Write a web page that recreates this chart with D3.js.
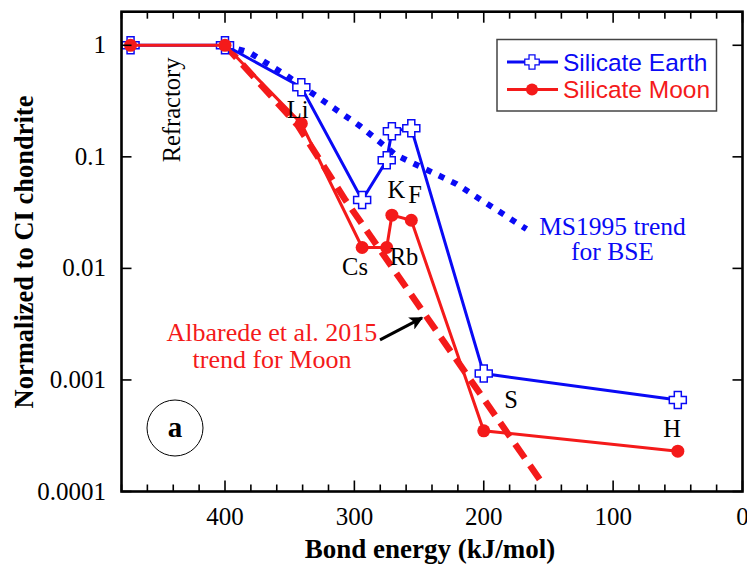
<!DOCTYPE html>
<html>
<head>
<meta charset="utf-8">
<script src="https://cdn.jsdelivr.net/npm/d3@7"></script>
<style>
  html, body { margin: 0; padding: 0; background: #fff; }
  svg text { font-family: "Liberation Serif", "Times New Roman", serif; }
</style>
</head>
<body>
<svg id="chart" width="747" height="564"></svg>
<script>
// bond energies (kJ/mol) of the plotted elements, refractory first
const elements   = ["Refr", "Refr", "Li", "Cs", "Rb", "K", "F", "S", "H"];
const bondEnergy = [473, 400, 341, 294, 275, 271, 256, 200, 50];
const earthValues = [1, 1, 0.42, 0.041, 0.093, 0.17, 0.18, 0.00114, 0.00066];
const moonValues  = [1, 1, 0.199, 0.0154, 0.0154, 0.030, 0.027, 0.00035, 0.00023];

// MS1995 trend for BSE (dotted)
const bseTrendEnergy = [400, 381, 354, 296, 268, 221, 167];
const bseTrendValues = [1, 0.86, 0.55, 0.19, 0.104, 0.057, 0.0225];

// Albarede et al. 2015 trend for Moon (dashed)
const moonTrendEnergy = [400, 344, 307, 156.5];
const moonTrendValues = [1, 0.193, 0.0411, 0.000127];

const xTicks = [400, 300, 200, 100, 0];
const yTicks = [1, 0.1, 0.01, 0.001, 0.0001];
const yTickLabels = ["1", "0.1", "0.01", "0.001", "0.0001"];

// element labels placed at (energy, value)
const pointLabels = [
  {t: "Li", e: 343.8, v: 0.223},
  {t: "K",  e: 267.6, v: 0.0428},
  {t: "F",  e: 253.1, v: 0.0386},
  {t: "Cs", e: 299.5, v: 0.00873},
  {t: "Rb", e: 261.6, v: 0.01074},
  {t: "S",  e: 178.9, v: 0.00056},
  {t: "H",  e: 54.5,  v: 0.000308}
];

const blue = "#0a0af5", red = "#f41a1a";

const svg = d3.select("#chart");
const padL = 121.5, padR = 742.5, padT = 11.7, padB = 491.5;

const x = d3.scaleLinear().domain([480, 0]).range([padL, padR]);
const y = d3.scaleLog().domain([0.0001, 2]).range([padB, padT]);

// ---- trends (behind data) ----
const line = d3.line().x(d => x(d[0])).y(d => y(d[1]));

svg.append("path")
  .attr("d", line(d3.zip(bseTrendEnergy, bseTrendValues)))
  .attr("fill", "none").attr("stroke", blue)
  .attr("stroke-width", 6).attr("stroke-dasharray", "6,8");

svg.append("path")
  .attr("d", line(d3.zip(moonTrendEnergy, moonTrendValues)))
  .attr("fill", "none").attr("stroke", red)
  .attr("stroke-width", 6.5).attr("stroke-dasharray", "17,9");

// ---- data ----
const plus = "M-3.5,-8.5H3.5V-3.5H8.5V3.5H3.5V8.5H-3.5V3.5H-8.5V-3.5H-3.5Z";
const earth = d3.zip(bondEnergy, earthValues);
const moon = d3.zip(bondEnergy, moonValues);

svg.append("path").attr("d", line(earth))
  .attr("fill", "none").attr("stroke", blue).attr("stroke-width", 3);
svg.selectAll(".ept").data(earth).join("path")
  .attr("class", "ept")
  .attr("d", plus)
  .attr("transform", d => `translate(${x(d[0])},${y(d[1])})`)
  .attr("fill", "#fff").attr("stroke", blue).attr("stroke-width", 1.5);

svg.append("path").attr("d", line(moon))
  .attr("fill", "none").attr("stroke", red).attr("stroke-width", 3);
svg.selectAll(".mpt").data(moon).join("circle")
  .attr("class", "mpt")
  .attr("cx", d => x(d[0])).attr("cy", d => y(d[1]))
  .attr("r", 6.5).attr("fill", red);

// ---- frame and ticks ----
const g = svg.append("g");
g.append("rect")
  .attr("x", padL).attr("y", padT)
  .attr("width", padR - padL).attr("height", padB - padT)
  .attr("fill", "none").attr("stroke", "#000").attr("stroke-width", 2.6);

const minor = d3.range(0, 481, 20);
minor.forEach(v => {
  const big = v % 100 === 0;
  const len = big ? 11 : 7;
  g.append("line").attr("x1", x(v)).attr("x2", x(v))
    .attr("y1", padB).attr("y2", padB - len)
    .attr("stroke", "#000").attr("stroke-width", 1.6);
  g.append("line").attr("x1", x(v)).attr("x2", x(v))
    .attr("y1", padT).attr("y2", padT + len)
    .attr("stroke", "#000").attr("stroke-width", 1.6);
});
yTicks.forEach(v => {
  g.append("line").attr("x1", padL).attr("x2", padL + 10)
    .attr("y1", y(v)).attr("y2", y(v)).attr("stroke", "#000").attr("stroke-width", 1.6);
  g.append("line").attr("x1", padR).attr("x2", padR - 10)
    .attr("y1", y(v)).attr("y2", y(v)).attr("stroke", "#000").attr("stroke-width", 1.6);
});

svg.selectAll(".xtl").data(xTicks).join("text")
  .attr("class", "xtl")
  .attr("x", d => x(d)).attr("y", padB + 33)
  .attr("text-anchor", "middle").attr("font-size", 25)
  .text(d => d);
svg.selectAll(".ytl").data(yTicks).join("text")
  .attr("class", "ytl")
  .attr("x", 106).attr("y", d => y(d) + 8)
  .attr("text-anchor", "end").attr("font-size", 25)
  .text((d, i) => yTickLabels[i]);

svg.append("text")
  .attr("x", 430).attr("y", 558)
  .attr("text-anchor", "middle").attr("font-size", 27).attr("font-weight", "bold")
  .text("Bond energy (kJ/mol)");
svg.append("text")
  .attr("transform", "translate(33,252) rotate(-90)")
  .attr("text-anchor", "middle").attr("font-size", 26.5).attr("font-weight", "bold")
  .text("Normalized to CI chondrite");

// ---- annotations ----
svg.append("text")
  .attr("transform", `translate(${x(434.8)},${y(0.263)}) rotate(-90)`)
  .attr("text-anchor", "middle").attr("font-size", 24.5)
  .text("Refractory");

svg.selectAll(".plab").data(pointLabels).join("text")
  .attr("class", "plab")
  .attr("x", d => x(d.e)).attr("y", d => y(d.v))
  .attr("text-anchor", "middle").attr("font-size", 24.5)
  .text(d => d.t);

const bseNote = svg.append("text").attr("fill", blue).attr("font-size", 25.5)
  .attr("text-anchor", "middle");
bseNote.append("tspan").attr("x", x(100.5)).attr("y", y(0.0199)).text("MS1995 trend");
bseNote.append("tspan").attr("x", x(100.5)).attr("y", y(0.0119)).text("for BSE");

const moonNote = svg.append("text").attr("fill", red).attr("font-size", 26)
  .attr("text-anchor", "middle");
moonNote.append("tspan").attr("x", x(363.7)).attr("y", y(0.00223)).text("Albarede et al. 2015");
moonNote.append("tspan").attr("x", x(363.7)).attr("y", y(0.00128)).text("trend for Moon");

svg.append("defs").append("marker")
  .attr("id", "arrow").attr("viewBox", "0 0 10 10")
  .attr("refX", 9).attr("refY", 5)
  .attr("markerWidth", 5).attr("markerHeight", 4.5)
  .attr("orient", "auto")
  .append("path").attr("d", "M0,0L10,5L0,10L2.5,5Z").attr("fill", "#000");
svg.append("line")
  .attr("x1", x(280.2)).attr("y1", y(0.00229))
  .attr("x2", x(247.7)).attr("y2", y(0.0036))
  .attr("stroke", "#000").attr("stroke-width", 3)
  .attr("marker-end", "url(#arrow)");

// panel label
svg.append("circle").attr("cx", 175).attr("cy", 428).attr("r", 28)
  .attr("fill", "none").attr("stroke", "#000").attr("stroke-width", 1);
svg.append("text").attr("x", 175).attr("y", 437)
  .attr("text-anchor", "middle").attr("font-size", 29).attr("font-weight", "bold")
  .text("a");

// ---- legend ----
const lg = svg.append("g");
lg.append("rect").attr("x", 497).attr("y", 39.5).attr("width", 219.5).attr("height", 71.5)
  .attr("fill", "#fff").attr("stroke", "#444").attr("stroke-width", 1.5);
const legendItems = [
  {label: "Silicate Earth", color: blue, mark: "plus"},
  {label: "Silicate Moon", color: red, mark: "dot"}
];
legendItems.forEach((it, i) => {
  const ly = 62 + i * 27.5;
  lg.append("line").attr("x1", 507).attr("x2", 558).attr("y1", ly).attr("y2", ly)
    .attr("stroke", it.color).attr("stroke-width", 3);
  if (it.mark === "plus") {
    lg.append("path").attr("d", plus).attr("transform", `translate(532,${ly}) scale(0.85)`)
      .attr("fill", "#fff").attr("stroke", it.color).attr("stroke-width", 1.5);
  } else {
    lg.append("circle").attr("cx", 532).attr("cy", ly).attr("r", 6).attr("fill", it.color);
  }
  lg.append("text").attr("x", 563).attr("y", ly + 8.5)
    .attr("fill", it.color).attr("font-size", 24.5)
    .style("font-family", "'Liberation Sans', Arial, sans-serif")
    .text(it.label);
});
</script>
</body>
</html>
